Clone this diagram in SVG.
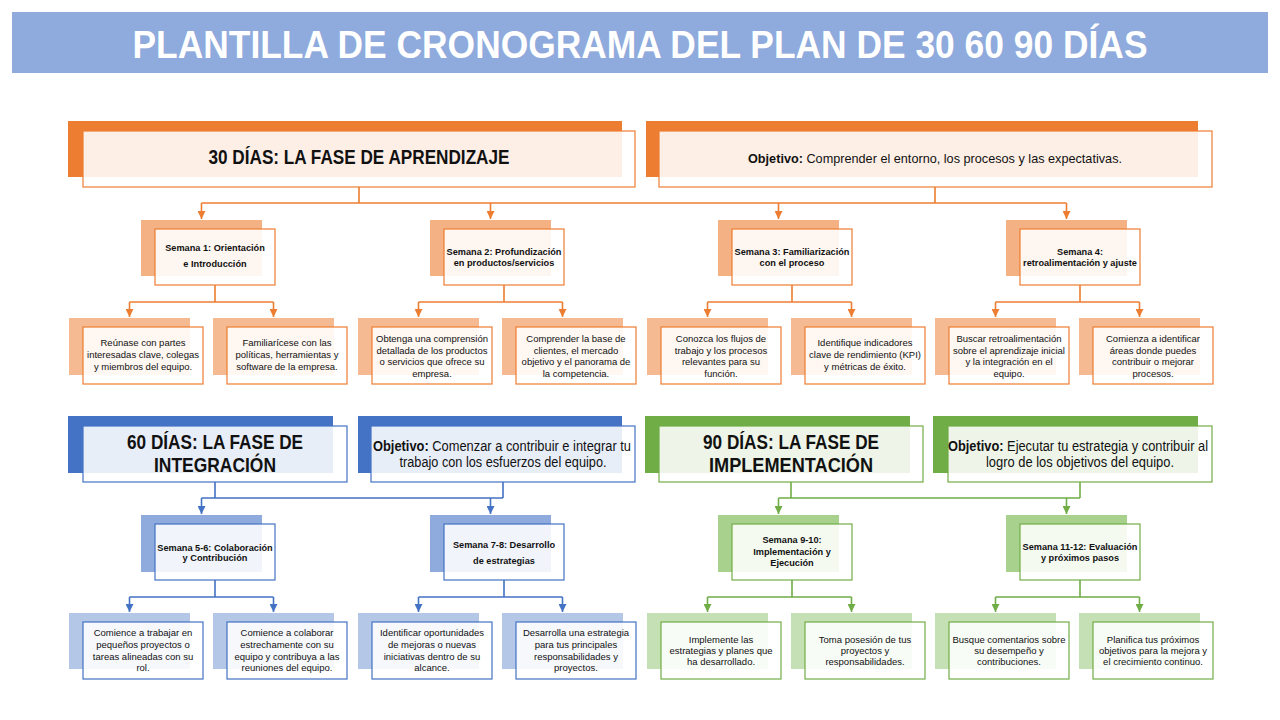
<svg xmlns="http://www.w3.org/2000/svg" width="1280" height="720" viewBox="0 0 1280 720">
<defs>
<style>
text{font-family:"Liberation Sans",Arial,sans-serif;fill:#111;text-anchor:middle}
.title{font-size:38px;font-weight:bold;fill:#fff}
.hd{font-size:20px;font-weight:bold}
.obj{font-size:14px}
.obj1{font-size:13.5px}
.b{font-weight:bold}
.wk{font-size:9.2px;font-weight:bold}
.lf{font-size:9.5px}
.fr{fill:#fff;fill-opacity:0.88;stroke-width:1.2}
.o-bar{fill:#ED7D31}.o-wk{fill:#F4B183}.o-lf{fill:#F5BA91}.o-fr{stroke:#ED7D31}
.b-bar{fill:#4472C4}.b-wk{fill:#8FAADC}.b-lf{fill:#B4C7E7}.b-fr{stroke:#4472C4}
.g-bar{fill:#70AD47}.g-wk{fill:#A9D18E}.g-lf{fill:#C5E0B4}.g-fr{stroke:#70AD47}
.c{fill:none;stroke-width:1.6}
.co{stroke:#ED7D31}.cb{stroke:#4472C4}.cg{stroke:#70AD47}
.ao{marker-end:url(#mo)}.ab{marker-end:url(#mb)}.ag{marker-end:url(#mg)}
</style>
<marker id="mo" viewBox="0 0 10 10" refX="10" refY="5" markerWidth="8" markerHeight="8" markerUnits="userSpaceOnUse" orient="auto"><path d="M0,0 L10,5 L0,10 z" fill="#ED7D31"/></marker>
<marker id="mb" viewBox="0 0 10 10" refX="10" refY="5" markerWidth="8" markerHeight="8" markerUnits="userSpaceOnUse" orient="auto"><path d="M0,0 L10,5 L0,10 z" fill="#4472C4"/></marker>
<marker id="mg" viewBox="0 0 10 10" refX="10" refY="5" markerWidth="8" markerHeight="8" markerUnits="userSpaceOnUse" orient="auto"><path d="M0,0 L10,5 L0,10 z" fill="#70AD47"/></marker>
</defs>
<rect width="1280" height="720" fill="#fff"/>

<g id="title">
<rect x="12" y="12" width="1256" height="61" fill="#8FAADC"/>
<text class="title" x="640" y="58" textLength="1015" lengthAdjust="spacingAndGlyphs">PLANTILLA DE CRONOGRAMA DEL PLAN DE 30 60 90 DÍAS</text>
</g>

<!-- connectors -->
<g id="connectors">
<g class="c co">
<path d="M359,187 V203 M935,187 V203 M201.5,203 H1066.5"/>
<path class="ao" d="M201.5,203 V219"/><path class="ao" d="M490.5,203 V219"/><path class="ao" d="M778.5,203 V219"/><path class="ao" d="M1066.5,203 V219"/>
<path d="M215,285 V302 M129.5,302 H273.5 M504,285 V302 M418.5,302 H562.5 M792,285 V302 M707.5,302 H851.5 M1080,285 V302 M995.5,302 H1139.5"/>
<path class="ao" d="M129.5,302 V317"/><path class="ao" d="M273.5,302 V317"/><path class="ao" d="M418.5,302 V317"/><path class="ao" d="M562.5,302 V317"/>
<path class="ao" d="M707.5,302 V317"/><path class="ao" d="M851.5,302 V317"/><path class="ao" d="M995.5,302 V317"/><path class="ao" d="M1139.5,302 V317"/>
</g>
<g class="c cb">
<path d="M215,482 V498 M503,482 V498 M201.5,498 H503"/>
<path class="ab" d="M201.5,498 V514"/><path class="ab" d="M490.5,498 V514"/>
<path d="M215,580 V597 M129.5,597 H273.5 M504,580 V597 M418.5,597 H562.5"/>
<path class="ab" d="M129.5,597 V612"/><path class="ab" d="M273.5,597 V612"/><path class="ab" d="M418.5,597 V612"/><path class="ab" d="M562.5,597 V612"/>
</g>
<g class="c cg">
<path d="M791,482 V498 M1080,482 V498 M778.5,498 H1080"/>
<path class="ag" d="M778.5,498 V514"/><path class="ag" d="M1066.5,498 V514"/>
<path d="M792,580 V597 M707.5,597 H851.5 M1080,580 V597 M995.5,597 H1139.5"/>
<path class="ag" d="M707.5,597 V612"/><path class="ag" d="M851.5,597 V612"/><path class="ag" d="M995.5,597 V612"/><path class="ag" d="M1139.5,597 V612"/>
</g>
</g>

<!-- 30 days -->
<g id="h30">
<rect class="o-bar" x="68" y="121" width="554" height="56"/>
<rect class="fr o-fr" x="83" y="131" width="552" height="56"/>
<text class="hd" x="359" y="164" textLength="301" lengthAdjust="spacingAndGlyphs">30 DÍAS: LA FASE DE APRENDIZAJE</text>
</g>
<g id="o30">
<rect class="o-bar" x="646" y="121" width="552" height="56"/>
<rect class="fr o-fr" x="659" y="131" width="553" height="56"/>
<text class="obj1" x="935" y="163" textLength="374" lengthAdjust="spacingAndGlyphs"><tspan class="b">Objetivo:</tspan> Comprender el entorno, los procesos y las expectativas.</text>
</g>

<g id="w1">
<rect class="o-wk" x="141" y="220" width="121" height="56"/>
<rect class="fr o-fr" x="155" y="229" width="120" height="56"/>
<text class="wk" x="215" y="251">Semana 1: Orientación</text>
<text class="wk" x="215" y="267">e Introducción</text>
</g>
<g id="w2">
<rect class="o-wk" x="430" y="220" width="121" height="56"/>
<rect class="fr o-fr" x="444" y="229" width="120" height="56"/>
<text class="wk" x="504" y="255">Semana 2: Profundización</text>
<text class="wk" x="504" y="266">en productos/servicios</text>
</g>
<g id="w3">
<rect class="o-wk" x="718" y="220" width="121" height="56"/>
<rect class="fr o-fr" x="732" y="229" width="120" height="56"/>
<text class="wk" x="792" y="255">Semana 3: Familiarización</text>
<text class="wk" x="792" y="266">con el proceso</text>
</g>
<g id="w4">
<rect class="o-wk" x="1006" y="220" width="121" height="56"/>
<rect class="fr o-fr" x="1020" y="229" width="120" height="56"/>
<text class="wk" x="1080" y="255">Semana 4:</text>
<text class="wk" x="1080" y="266">retroalimentación y ajuste</text>
</g>

<g id="l1">
<rect class="o-lf" x="69" y="318" width="121" height="57"/>
<rect class="fr o-fr" x="83" y="327" width="120" height="57"/>
<text class="lf" x="143" y="346">Reúnase con partes</text>
<text class="lf" x="143" y="358">interesadas clave, colegas</text>
<text class="lf" x="143" y="370">y miembros del equipo.</text>
</g>
<g id="l2">
<rect class="o-lf" x="213" y="318" width="121" height="57"/>
<rect class="fr o-fr" x="227" y="327" width="120" height="57"/>
<text class="lf" x="287" y="346">Familiarícese con las</text>
<text class="lf" x="287" y="358">políticas, herramientas y</text>
<text class="lf" x="287" y="370">software de la empresa.</text>
</g>
<g id="l3">
<rect class="o-lf" x="358" y="318" width="121" height="57"/>
<rect class="fr o-fr" x="372" y="327" width="120" height="57"/>
<text class="lf" x="432" y="342">Obtenga una comprensión</text>
<text class="lf" x="432" y="353.7">detallada de los productos</text>
<text class="lf" x="432" y="365.4">o servicios que ofrece su</text>
<text class="lf" x="432" y="377">empresa.</text>
</g>
<g id="l4">
<rect class="o-lf" x="502" y="318" width="121" height="57"/>
<rect class="fr o-fr" x="516" y="327" width="120" height="57"/>
<text class="lf" x="576" y="342">Comprender la base de</text>
<text class="lf" x="576" y="353.7">clientes, el mercado</text>
<text class="lf" x="576" y="365.4">objetivo y el panorama de</text>
<text class="lf" x="576" y="377">la competencia.</text>
</g>
<g id="l5">
<rect class="o-lf" x="647" y="318" width="121" height="57"/>
<rect class="fr o-fr" x="661" y="327" width="120" height="57"/>
<text class="lf" x="721" y="342">Conozca los flujos de</text>
<text class="lf" x="721" y="353.7">trabajo y los procesos</text>
<text class="lf" x="721" y="365.4">relevantes para su</text>
<text class="lf" x="721" y="377">función.</text>
</g>
<g id="l6">
<rect class="o-lf" x="791" y="318" width="121" height="57"/>
<rect class="fr o-fr" x="805" y="327" width="120" height="57"/>
<text class="lf" x="865" y="346">Identifique indicadores</text>
<text class="lf" x="865" y="358">clave de rendimiento (KPI)</text>
<text class="lf" x="865" y="370">y métricas de éxito.</text>
</g>
<g id="l7">
<rect class="o-lf" x="935" y="318" width="121" height="57"/>
<rect class="fr o-fr" x="949" y="327" width="120" height="57"/>
<text class="lf" x="1009" y="342">Buscar retroalimentación</text>
<text class="lf" x="1009" y="353.7">sobre el aprendizaje inicial</text>
<text class="lf" x="1009" y="365.4">y la integración en el</text>
<text class="lf" x="1009" y="377">equipo.</text>
</g>
<g id="l8">
<rect class="o-lf" x="1079" y="318" width="121" height="57"/>
<rect class="fr o-fr" x="1093" y="327" width="120" height="57"/>
<text class="lf" x="1153" y="342">Comienza a identificar</text>
<text class="lf" x="1153" y="353.7">áreas donde puedes</text>
<text class="lf" x="1153" y="365.4">contribuir o mejorar</text>
<text class="lf" x="1153" y="377">procesos.</text>
</g>

<!-- 60 days -->
<g id="h60">
<rect class="b-bar" x="68" y="416" width="265" height="57"/>
<rect class="fr b-fr" x="83" y="426" width="264" height="56"/>
<text class="hd" x="215" y="449" textLength="176" lengthAdjust="spacingAndGlyphs">60 DÍAS: LA FASE DE</text>
<text class="hd" x="215" y="472" textLength="122" lengthAdjust="spacingAndGlyphs">INTEGRACIÓN</text>
</g>
<g id="o60">
<rect class="b-bar" x="358" y="416" width="264" height="57"/>
<rect class="fr b-fr" x="371" y="426" width="264" height="56"/>
<text class="obj" x="502" y="451" textLength="258" lengthAdjust="spacingAndGlyphs"><tspan class="b">Objetivo:</tspan> Comenzar a contribuir e integrar tu</text>
<text class="obj" x="503" y="467" textLength="207" lengthAdjust="spacingAndGlyphs">trabajo con los esfuerzos del equipo.</text>
</g>
<g id="w56">
<rect class="b-wk" x="141" y="515" width="121" height="57"/>
<rect class="fr b-fr" x="155" y="524" width="120" height="56"/>
<text class="wk" x="215" y="551">Semana 5-6: Colaboración</text>
<text class="wk" x="215" y="561">y Contribución</text>
</g>
<g id="w78">
<rect class="b-wk" x="430" y="515" width="121" height="57"/>
<rect class="fr b-fr" x="444" y="524" width="120" height="56"/>
<text class="wk" x="504" y="548">Semana 7-8: Desarrollo</text>
<text class="wk" x="504" y="564">de estrategias</text>
</g>
<g id="l9">
<rect class="b-lf" x="69" y="613" width="121" height="56"/>
<rect class="fr b-fr" x="83" y="622" width="120" height="57"/>
<text class="lf" x="143" y="636">Comience a trabajar en</text>
<text class="lf" x="143" y="648">pequeños proyectos o</text>
<text class="lf" x="143" y="660">tareas alineadas con su</text>
<text class="lf" x="143" y="671">rol.</text>
</g>
<g id="l10">
<rect class="b-lf" x="213" y="613" width="121" height="56"/>
<rect class="fr b-fr" x="227" y="622" width="120" height="57"/>
<text class="lf" x="287" y="636">Comience a colaborar</text>
<text class="lf" x="287" y="648">estrechamente con su</text>
<text class="lf" x="287" y="660">equipo y contribuya a las</text>
<text class="lf" x="287" y="671">reuniones del equipo.</text>
</g>
<g id="l11">
<rect class="b-lf" x="358" y="613" width="121" height="56"/>
<rect class="fr b-fr" x="372" y="622" width="120" height="57"/>
<text class="lf" x="432" y="636">Identificar oportunidades</text>
<text class="lf" x="432" y="648">de mejoras o nuevas</text>
<text class="lf" x="432" y="660">iniciativas dentro de su</text>
<text class="lf" x="432" y="671">alcance.</text>
</g>
<g id="l12">
<rect class="b-lf" x="502" y="613" width="121" height="56"/>
<rect class="fr b-fr" x="516" y="622" width="120" height="57"/>
<text class="lf" x="576" y="636">Desarrolla una estrategia</text>
<text class="lf" x="576" y="648">para tus principales</text>
<text class="lf" x="576" y="660">responsabilidades y</text>
<text class="lf" x="576" y="671">proyectos.</text>
</g>

<!-- 90 days -->
<g id="h90">
<rect class="g-bar" x="645" y="416" width="265" height="57"/>
<rect class="fr g-fr" x="659" y="426" width="264" height="56"/>
<text class="hd" x="791" y="449" textLength="176" lengthAdjust="spacingAndGlyphs">90 DÍAS: LA FASE DE</text>
<text class="hd" x="791" y="472" textLength="164" lengthAdjust="spacingAndGlyphs">IMPLEMENTACIÓN</text>
</g>
<g id="o90">
<rect class="g-bar" x="933" y="416" width="265" height="57"/>
<rect class="fr g-fr" x="948" y="426" width="264" height="56"/>
<text class="obj" x="1078" y="451" textLength="260" lengthAdjust="spacingAndGlyphs"><tspan class="b">Objetivo:</tspan> Ejecutar tu estrategia y contribuir al</text>
<text class="obj" x="1080" y="467" textLength="188" lengthAdjust="spacingAndGlyphs">logro de los objetivos del equipo.</text>
</g>
<g id="w910">
<rect class="g-wk" x="718" y="515" width="121" height="57"/>
<rect class="fr g-fr" x="732" y="524" width="120" height="56"/>
<text class="wk" x="792" y="543">Semana 9-10:</text>
<text class="wk" x="792" y="555">Implementación y</text>
<text class="wk" x="792" y="566">Ejecución</text>
</g>
<g id="w1112">
<rect class="g-wk" x="1006" y="515" width="121" height="57"/>
<rect class="fr g-fr" x="1020" y="524" width="120" height="56"/>
<text class="wk" x="1080" y="550">Semana 11-12: Evaluación</text>
<text class="wk" x="1080" y="561">y próximos pasos</text>
</g>
<g id="l13">
<rect class="g-lf" x="647" y="613" width="121" height="56"/>
<rect class="fr g-fr" x="661" y="622" width="120" height="57"/>
<text class="lf" x="721" y="643">Implemente las</text>
<text class="lf" x="721" y="654">estrategias y planes que</text>
<text class="lf" x="721" y="665">ha desarrollado.</text>
</g>
<g id="l14">
<rect class="g-lf" x="791" y="613" width="121" height="56"/>
<rect class="fr g-fr" x="805" y="622" width="120" height="57"/>
<text class="lf" x="865" y="643">Toma posesión de tus</text>
<text class="lf" x="865" y="654">proyectos y</text>
<text class="lf" x="865" y="665">responsabilidades.</text>
</g>
<g id="l15">
<rect class="g-lf" x="935" y="613" width="121" height="56"/>
<rect class="fr g-fr" x="949" y="622" width="120" height="57"/>
<text class="lf" x="1009" y="643">Busque comentarios sobre</text>
<text class="lf" x="1009" y="654">su desempeño y</text>
<text class="lf" x="1009" y="665">contribuciones.</text>
</g>
<g id="l16">
<rect class="g-lf" x="1079" y="613" width="121" height="56"/>
<rect class="fr g-fr" x="1093" y="622" width="120" height="57"/>
<text class="lf" x="1153" y="643">Planifica tus próximos</text>
<text class="lf" x="1153" y="654">objetivos para la mejora y</text>
<text class="lf" x="1153" y="665">el crecimiento continuo.</text>
</g>
</svg>
